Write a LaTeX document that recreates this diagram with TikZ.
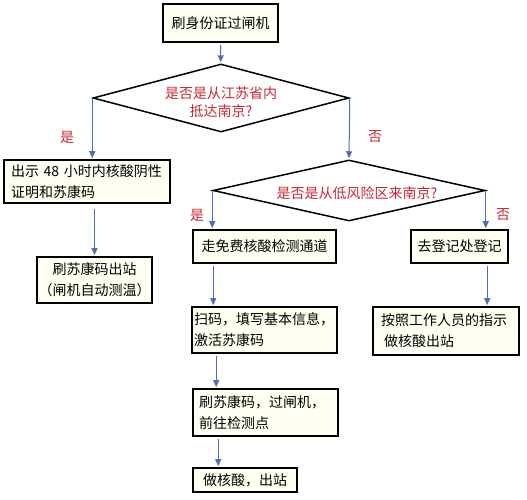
\documentclass[tikz,border=0pt]{standalone}
\usepackage{fontspec}
\setmainfont{Noto Sans CJK SC}
\usetikzlibrary{shapes.geometric,arrows.meta}
\definecolor{cream}{RGB}{255,255,242}
\definecolor{qred}{RGB}{200,40,50}
\definecolor{arrblue}{RGB}{79,110,180}
\tikzset{
  box/.style={draw=black, line width=1.6pt, fill=cream, rectangle, inner sep=0pt,
    font=\fontsize{14}{21}\selectfont},
  dia/.style={draw=black, line width=1.5pt, fill=white, diamond, inner sep=0pt},
  qtext/.style={text=qred, font=\fontsize{14}{18}\selectfont, align=center},
  yn/.style={text=qred, font=\fontsize{14}{16}\selectfont},
  arr/.style={draw=arrblue, line width=1pt, -{Triangle[width=6pt,length=7pt]},
    shorten <=2pt, shorten >=1pt}
}
\begin{document}
\begin{tikzpicture}[x=1pt,y=-1pt]
\useasboundingbox (0,0) rectangle (527,500);
% boxes
\node[box, minimum width=115pt, minimum height=38pt] (top) at (220.5,23) {刷身份证过闸机};
\node[dia, minimum width=256pt, minimum height=68pt] (d1) at (221,98) {};
\node[qtext] (t1) at (221,102) {是否是从江苏省内\\抵达南京?};
\node[box, minimum width=166pt, minimum height=43pt, text width=152pt, align=left] (b1) at (87,181.5) {出示 48 小时内核酸阴性\\证明和苏康码};
\node[box, minimum width=115pt, minimum height=46pt, align=center] (b2) at (94.5,280) {刷苏康码出站\\（闸机自动测温）};
\node[dia, minimum width=272pt, minimum height=61pt] (d2) at (349,190.5) {};
\node[qtext] (t2) at (357,193) {是否是从低风险区来南京?};
\node[box, minimum width=143pt, minimum height=33pt] (b3) at (264.5,246.5) {走免费核酸检测通道};
\node[box, minimum width=97pt, minimum height=33pt] (b4) at (459.5,246.5) {去登记处登记};
\node[box, minimum width=145pt, minimum height=46pt, text width=141pt, align=left] (b5) at (264.5,330) {扫码，填写基本信息，\\激活苏康码};
\node[box, minimum width=146pt, minimum height=48pt, text width=130pt, align=left] (b6) at (446,331) {按照工作人员的指示\\\hspace*{3pt}做核酸出站};
\node[box, minimum width=145pt, minimum height=47pt, text width=133pt, align=left] (b7) at (265.5,412.5) {刷苏康码，过闸机，\\前往检测点};
\node[box, minimum width=104pt, minimum height=24pt] (b8) at (245,480) {做核酸，出站};
% yes/no labels
\node[yn] (y1) at (67,137) {是};
\node[yn] (n1) at (375,137) {否};
\node[yn] (y2) at (197,215) {是};
\node[yn] (n2) at (503,215) {否};
% connectors
\draw[arr] (top) -- (d1);
\draw[arr, shorten <=0pt] (d1.west) -- (d1.west |- b1.north);
\draw[arr, shorten <=0pt] (d1.east) -- (d2.north);
\draw[arr, shorten <=0pt] (d2.west) -- (d2.west |- b3.north);
\draw[arr, shorten <=0pt] (d2.east) -- (d2.east |- b4.north);
\draw[arr, shorten <=5pt] (b2.north |- b1.south) -- (b2.north);
\draw[arr] ([xshift=21pt]b3.south west) -- ([xshift=22pt]b5.north west);
\draw[arr] ([xshift=77pt]b4.south west) -- ([xshift=115pt]b6.north west);
\draw[arr] ([xshift=25pt]b5.south west) -- ([xshift=24pt]b7.north west);
\draw[arr] ([xshift=26pt]b7.south west) -- ([xshift=26pt]b8.north west);
\end{tikzpicture}
\end{document}
